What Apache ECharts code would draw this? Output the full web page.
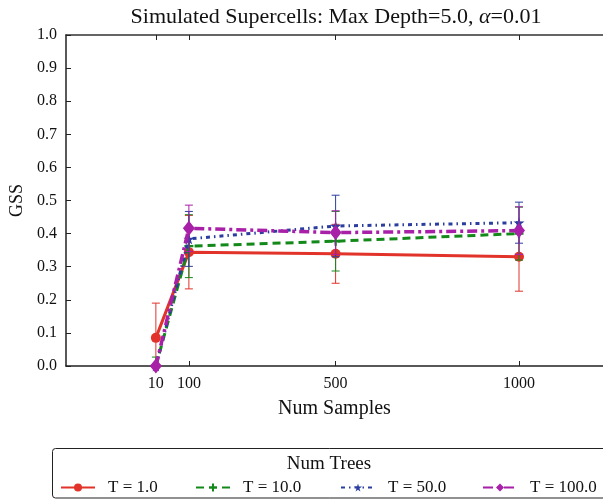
<!DOCTYPE html>
<html><head><meta charset="utf-8">
<script src="https://cdn.jsdelivr.net/npm/echarts@6/dist/echarts.min.js"></script>
<style>html,body{margin:0;padding:0;background:#fff}#c{width:603px;height:501px}</style>
</head><body><div id="c"></div>
<script>
// ---- data ----
const samples = [10, 100, 500, 1000];
const xTickValues = [10, 100, 500, 1000];
const seriesNames = ['T = 1.0', 'T = 10.0', 'T = 50.0', 'T = 100.0'];
const gssT1 = [0.085, 0.344, 0.339, 0.330];
const errT1 = [0.105, 0.111, 0.089, 0.104];
const gssT10 = [0.0, 0.362, 0.377, 0.400];
const errT10 = [0.027, 0.095, 0.090, 0.080];
const gssT50 = [0.0, 0.384, 0.423, 0.433];
const errT50 = [0.0, 0.083, 0.093, 0.062];
const gssT100 = [0.0, 0.416, 0.403, 0.409];
const errT100 = [0.0, 0.070, 0.066, 0.072];

const FONT = 'Liberation Serif';
const colors = ['#e2332a', '#13891a', '#2b3ea0', '#a81fa8'];
const values = [gssT1, gssT10, gssT50, gssT100];
const errs = [errT1, errT10, errT50, errT100];
const lineStyles = [
  {width: 3, type: 'solid'},
  {width: 3, type: [8, 5]},
  {width: 3, type: [4, 4, 1.5, 4]},
  {width: 3.5, type: [10, 4, 3, 4]}
];
const symbols = [
  'circle',
  'path://M3,0h2v3h3v2h-3v3h-2v-3h-3v-2h3z',
  'path://M50,0 L61,35 L98,35 L68,57 L79,91 L50,70 L21,91 L32,57 L2,35 L39,35 Z',
  'diamond'
];
const symbolSizes = [10, 9, 11, [12, 15]];

const series = [];
values.forEach((vals, i) => {
  series.push({
    type: 'custom',
    name: seriesNames[i] + ' err',
    clip: true,
    z: 2 + i * 2,
    data: samples.map((x, k) => [x, vals[k], errs[i][k]]),
    renderItem: function (params, api) {
      const x = api.value(0), v = api.value(1), e = api.value(2);
      const lo = api.coord([x, v - e]);
      const hi = api.coord([x, v + e]);
      const cw = 4;
      const st = {stroke: colors[i], lineWidth: 1};
      return {
        type: 'group',
        children: [
          {type: 'line', shape: {x1: lo[0], y1: lo[1], x2: hi[0], y2: hi[1]}, style: st},
          {type: 'line', shape: {x1: lo[0] - cw, y1: lo[1], x2: lo[0] + cw, y2: lo[1]}, style: st},
          {type: 'line', shape: {x1: hi[0] - cw, y1: hi[1], x2: hi[0] + cw, y2: hi[1]}, style: st}
        ]
      };
    }
  });
  series.push({
    type: 'line',
    name: seriesNames[i],
    z: 3 + i * 2,
    data: samples.map((x, k) => [x, vals[k]]),
    color: colors[i],
    lineStyle: Object.assign({color: colors[i]}, lineStyles[i]),
    symbol: symbols[i],
    symbolSize: symbolSizes[i],
    showAllSymbol: true,
    itemStyle: {color: colors[i]},
    clip: true
  });
});

const legendLefts = [60, 195, 340, 482];
const chart = echarts.init(document.getElementById('c'));
chart.setOption({
  animation: false,
  backgroundColor: '#fff',
  title: [{
    text: 'Simulated Supercells: Max Depth=5.0, {a|α}=0.01',
    left: 336, top: 6, padding: 0, textAlign: 'center',
    textStyle: {fontFamily: FONT, fontSize: 22, fontWeight: 'normal', color: '#111',
      rich: {a: {fontFamily: FONT, fontSize: 22, fontStyle: 'italic', color: '#111'}}}
  }, {
    text: 'Num Trees',
    left: 329, top: 455, padding: 0, textAlign: 'center',
    textStyle: {fontFamily: FONT, fontSize: 19, fontWeight: 'normal', color: '#111'}
  }],
  graphic: [{
    type: 'rect', z: -1,
    shape: {x: 52.5, y: 448.5, width: 600, height: 49.5, r: 3},
    style: {fill: '#fff', stroke: '#222', lineWidth: 1}
  }],
  legend: seriesNames.map((n, i) => ({
    data: [n], left: legendLefts[i], top: 479, padding: 0,
    itemWidth: 34, itemHeight: 10,
    textStyle: {fontFamily: FONT, fontSize: 17, color: '#111', padding: [0, 0, 0, 8]}
  })),
  grid: {left: 66, top: 35, bottom: 135, right: 0, containLabel: false},
  xAxis: [{
    type: 'value', min: -235, max: 1229,
    name: 'Num Samples', nameLocation: 'middle', nameGap: 33,
    nameTextStyle: {fontFamily: FONT, fontSize: 20, color: '#111'},
    axisLine: {onZero: false, lineStyle: {color: '#222', width: 1.5}},
    axisTick: {inside: true, length: 5, customValues: xTickValues, lineStyle: {color: '#222'}},
    axisLabel: {customValues: xTickValues, fontFamily: FONT, fontSize: 16, color: '#111', margin: 10,
      formatter: v => String(v)},
    splitLine: {show: false}
  }, {
    type: 'value', min: -235, max: 1229, position: 'top',
    axisLine: {onZero: false, lineStyle: {color: '#333', width: 1.5}},
    axisTick: {inside: true, length: 5, customValues: xTickValues, lineStyle: {color: '#222'}},
    axisLabel: {show: false},
    splitLine: {show: false}
  }],
  yAxis: {
    type: 'value', min: 0, max: 1, interval: 0.1,
    name: 'GSS', nameLocation: 'middle', nameGap: 35,
    nameTextStyle: {fontFamily: FONT, fontSize: 18, color: '#111'},
    axisLine: {show: true, onZero: false, lineStyle: {color: '#222', width: 1.5}},
    axisTick: {show: true, inside: true, length: 5, lineStyle: {color: '#222'}},
    axisLabel: {fontFamily: FONT, fontSize: 16, color: '#111', margin: 9,
      formatter: v => v.toFixed(1)},
    splitLine: {show: false}
  },
  series: series
});
</script></body></html>
